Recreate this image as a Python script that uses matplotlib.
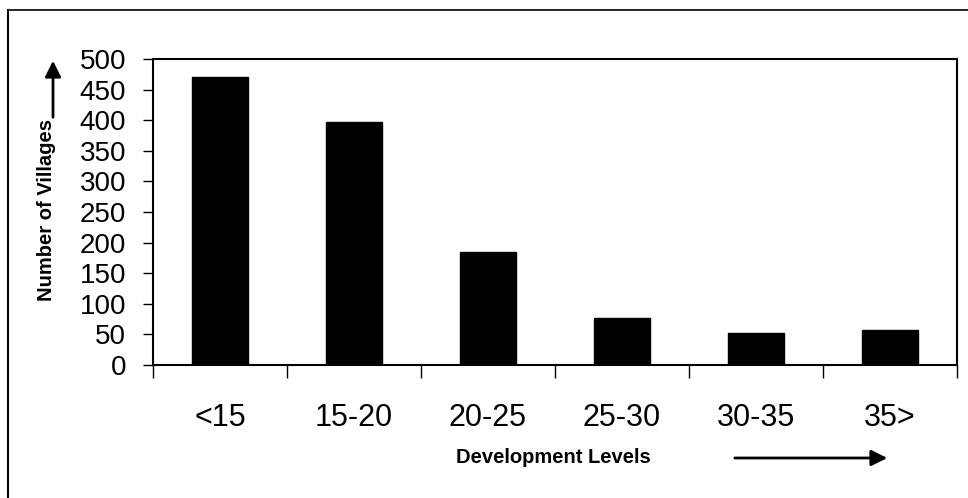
import matplotlib.pyplot as plt
import numpy as np
from matplotlib.lines import Line2D

plt.rcParams['font.family'] = ['Liberation Sans', 'DejaVu Sans']

levels = ['<15', '15-20', '20-25', '25-30', '30-35', '35>']
villages = [470, 397, 185, 77, 52, 57]
yticks = [0, 50, 100, 150, 200, 250, 300, 350, 400, 450, 500]

W, H = 968, 498
fig = plt.figure(figsize=(W / 100, H / 100), dpi=100)
ax = fig.add_axes([153 / W, 1 - 365 / H, (957 - 153) / W, (365 - 59) / H])

x = np.arange(len(levels))
ax.bar(x, villages, width=0.42, color='black', edgecolor='black')

ax.set_xlim(-0.5, len(levels) - 0.5)
ax.set_ylim(0, 500)
ax.set_yticks(yticks)
ax.set_yticklabels([str(v) for v in yticks], fontsize=20)
ax.tick_params(axis='y', direction='out', length=7.5, width=1, pad=12)

# ticks at category boundaries, labels at centres
ax.set_xticks(np.arange(len(levels) + 1) - 0.5)
ax.set_xticklabels([])
ax.set_xticks(x, minor=True)
ax.set_xticklabels(levels, minor=True, fontsize=22)
ax.tick_params(axis='x', which='major', direction='out', length=9, width=1)
ax.tick_params(axis='x', which='minor', length=0, pad=27)

for s in ax.spines.values():
    s.set_linewidth(1.5)

# axis titles with arrows
fig.text(47 / W, 1 - 210 / H, 'Number of Villages', rotation=90, fontsize=14.5,
         fontweight='bold', ha='center', va='center')
fig.text(553 / W, 1 - 457 / H, 'Development Levels', fontsize=14.5,
         fontweight='bold', ha='center', va='center')
fig.add_artist(plt.Annotation('', xy=(53 / W, 1 - 58 / H), xytext=(53 / W, 1 - 120 / H),
                              xycoords='figure fraction',
                              arrowprops=dict(arrowstyle='-|>', color='black', lw=2,
                                              mutation_scale=24)))
fig.add_artist(plt.Annotation('', xy=(890 / W, 1 - 458 / H), xytext=(732 / W, 1 - 458 / H),
                              xycoords='figure fraction',
                              arrowprops=dict(arrowstyle='-|>', color='black', lw=2,
                                              mutation_scale=24)))

# outer frame
fig.add_artist(Line2D([8 / W, 8 / W], [0, 1 - 10 / H], color='black', lw=1.5))
fig.add_artist(Line2D([8 / W, 1], [1 - 10 / H, 1 - 10 / H], color='black', lw=1.2))

fig.savefig('out.png', dpi=100)
